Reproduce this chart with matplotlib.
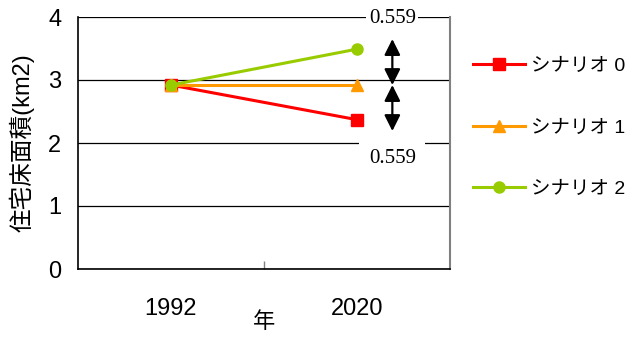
import matplotlib.pyplot as plt
from matplotlib.lines import Line2D

plt.rcParams['font.family'] = ['Liberation Sans', 'Noto Sans CJK JP', 'DejaVu Sans']

years = ["1992", "2020"]
labels = ["シナリオ 0", "シナリオ 1", "シナリオ 2"]
values = [[2.92, 2.37], [2.92, 2.92], [2.92, 3.49]]
colors = ["#ff0000", "#ff9900", "#99cc00"]
markers = ["s", "^", "o"]
diff_text = "0.559"

fig = plt.figure(figsize=(6.32, 3.40), dpi=100)
ax = fig.add_axes([78/632, 1-269/340, 372/632, 252/340])

xs = list(range(len(years)))
handles = []
for v, c, m, lab in zip(values, colors, markers, labels):
    ax.plot(xs, v, color=c, lw=2.2, marker=m, ms=8, zorder=3, clip_on=False)
    handles.append(Line2D([0], [0], color=c, lw=2.2, marker=m, ms=8, label=lab))

ax.set_xlim(-0.5, 1.5)
ax.set_ylim(0, 4)
ax.set_yticks([0, 1, 2, 3, 4])
ax.tick_params(axis='y', length=0, labelsize=17, pad=12)
ax.yaxis.grid(True, color='black', lw=0.9)
ax.set_axisbelow(True)

ax.set_xticks([0.5])
ax.set_xticklabels([""])
ax.tick_params(axis='x', which='major', direction='in', length=6, color='#808080', width=1)
ax.set_xticks(xs, minor=True)
ax.set_xticklabels(years, minor=True)
ax.tick_params(axis='x', which='minor', length=0, labelsize=17, pad=21)

ax.spines['top'].set_visible(False)
ax.spines['right'].set_color('#808080')
ax.spines['right'].set_linewidth(1.5)
ax.spines['left'].set_linewidth(1.2)
ax.spines['bottom'].set_linewidth(1.2)

ax.set_ylabel("住宅床面積(km2)", fontsize=17, labelpad=10)
ax.set_xlabel("年", fontsize=16, labelpad=-6)

# difference arrows
xa = 1.19
base = values[1][1]
for end in [base + 0.73, base - 0.73]:
    ax.annotate("", xy=(xa, end), xytext=(xa, base),
                arrowprops=dict(arrowstyle='<|-|>', color='black', lw=1.6,
                                mutation_scale=24, shrinkA=0, shrinkB=0))
ax.text(xa, 3.97, diff_text, ha='center', va='center', fontsize=15,
        family='Liberation Serif', zorder=5,
        bbox=dict(boxstyle='square,pad=0.12', fc='white', ec='none'))
ax.text(xa, 1.76, diff_text, ha='center', va='center', fontsize=15,
        family='Liberation Serif', zorder=5,
        bbox=dict(boxstyle='square,pad=0.45', fc='white', ec='none'))

ax.legend(handles=handles, loc='upper left', bbox_to_anchor=(1.04, 0.87),
          frameon=False, fontsize=14, handlelength=2.7, labelspacing=2.25,
          handletextpad=0.3, borderaxespad=0)

fig.savefig("out.png", dpi=100)
